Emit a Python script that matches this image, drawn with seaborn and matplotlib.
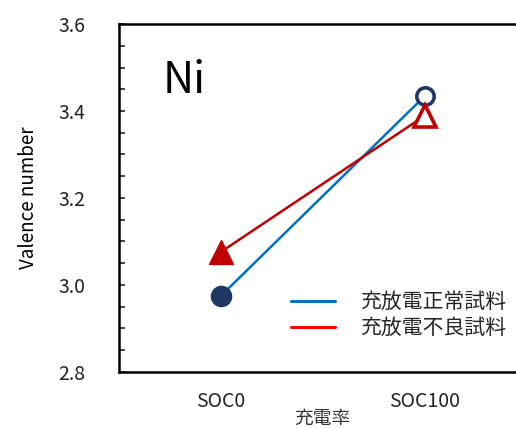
import pandas as pd
import matplotlib
matplotlib.use('Agg')
import matplotlib.pyplot as plt
import seaborn as sns
from matplotlib.lines import Line2D
from matplotlib.ticker import MultipleLocator

# values
soc = ['SOC0', 'SOC100']
normal = [2.975, 3.434]
faulty = [3.076, 3.389]
series_names = ['充放電正常試料', '充放電不良試料']

df = pd.DataFrame({
    'SOC': soc * 2,
    'valence': normal + faulty,
    'sample': [series_names[0]] * 2 + [series_names[1]] * 2,
})

sns.set_style('white')
plt.rcParams['font.family'] = ['Noto Sans CJK JP', 'DejaVu Sans']

blue = '#0070C0'
red = '#C00000'
navy = '#1F3864'

fig = plt.figure(figsize=(5.16, 4.28), dpi=100)
ax = fig.add_axes([119 / 516, 56 / 428, 407.5 / 516, 348 / 428])

sns.lineplot(data=df, x='SOC', y='valence', hue='sample',
             palette=[blue, red], linewidth=1.8, legend=False, ax=ax)

# markers: filled at SOC0, open at SOC100
ax.plot(0, normal[0], 'o', ms=14.5, color=navy, zorder=5)
ax.plot(1, normal[1], 'o', ms=12.5, mfc='white', mec=navy, mew=2.6, zorder=5)
ax.plot(0, faulty[0], '^', ms=17.5, color=red, zorder=5)
ax.plot(1, faulty[1], '^', ms=16, mfc='white', mec=red, mew=2.6, zorder=5)

ax.set_xlim(-0.5, 1.5)
ax.set_ylim(2.8, 3.6)
ax.set_xticks([0, 1])
ax.set_xticklabels(soc)
ax.yaxis.set_major_locator(MultipleLocator(0.2))
ax.yaxis.set_minor_locator(MultipleLocator(0.05))
ax.yaxis.set_major_formatter(matplotlib.ticker.FormatStrFormatter('%.1f'))
ax.tick_params(axis='y', which='both', direction='in', left=True, length=4,
               width=1.2, labelsize=14, pad=24, colors='#222222')
ax.tick_params(axis='x', bottom=False, labelsize=14, pad=10, colors='#222222')

for side in ['left', 'top', 'bottom']:
    ax.spines[side].set_color('black')
    ax.spines[side].set_linewidth(1.8)
ax.spines['right'].set_visible(False)

ax.set_xlabel('充電率', fontsize=13.5, labelpad=-3, color='#333333')
ax.set_ylabel('Valence number', fontsize=13.5, labelpad=14, color='black')

ax.text(-0.285, 3.47, 'Ni', fontsize=31, color='black', va='center', ha='left')

handles = [Line2D([], [], color=blue, lw=2.2), Line2D([], [], color='#FF0000', lw=2.2)]
ax.legend(handles, series_names, frameon=False, fontsize=15,
          loc='upper left', bbox_to_anchor=(291 / 516, 1 - 291 / 428),
          bbox_transform=fig.transFigure, handlelength=2.1, handletextpad=1.2,
          labelspacing=0.2, borderaxespad=0, borderpad=0)

fig.savefig('out.png', dpi=100)
